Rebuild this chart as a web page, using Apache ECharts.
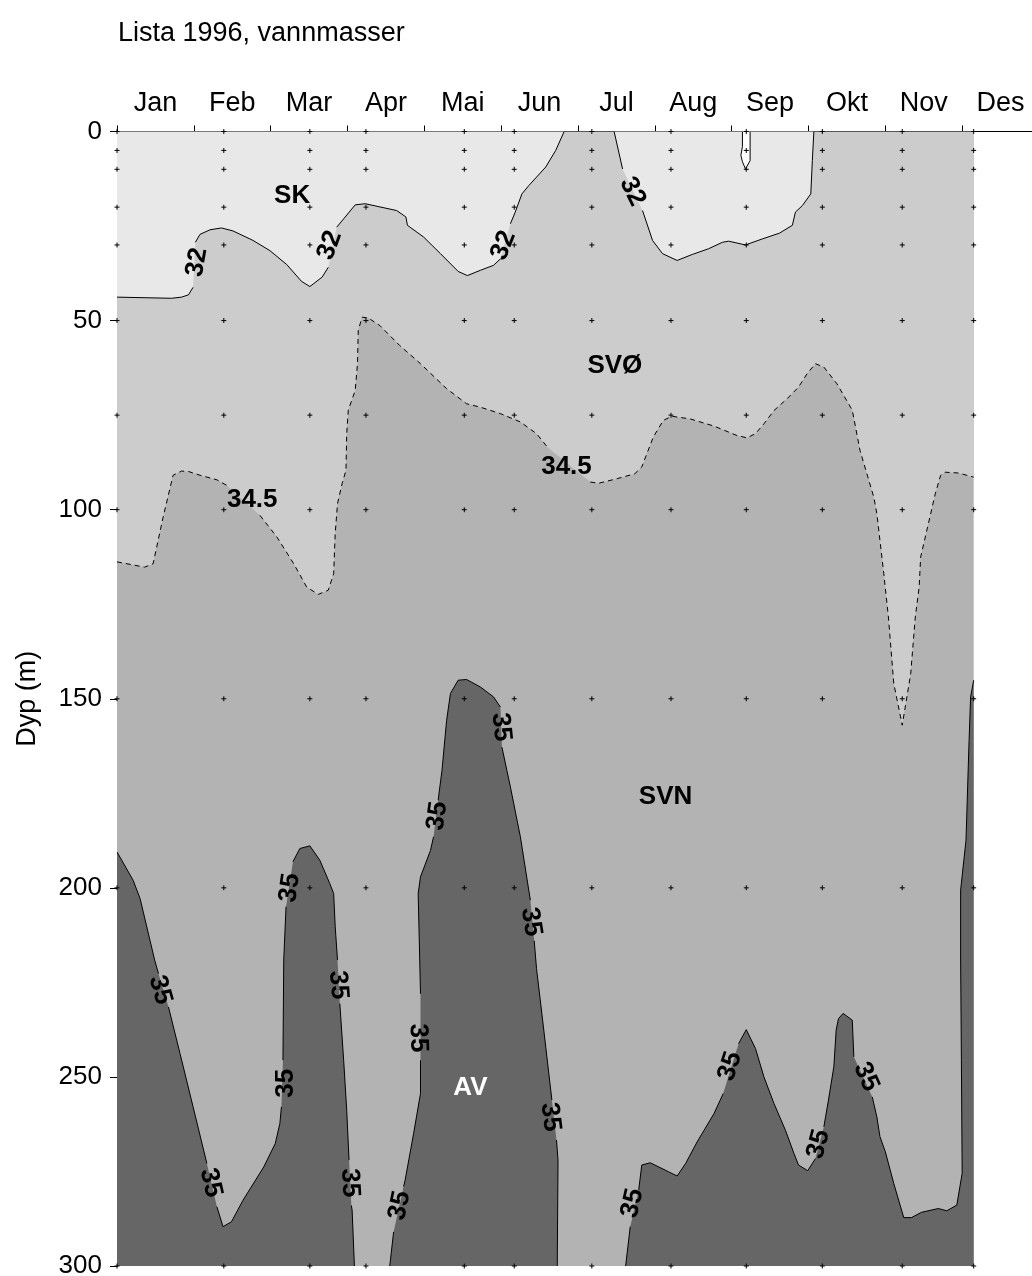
<!DOCTYPE html>
<html>
<head>
<meta charset="utf-8">
<script src="https://cdn.jsdelivr.net/npm/echarts@6/dist/echarts.min.js"></script>
<style>
html,body{margin:0;padding:0;background:#fff;}
#chart{width:1032px;height:1276px;}
</style>
</head>
<body>
<div id="chart"></div>
<script>
// ---------- data (x = month position, 0 = 1 Jan; y = depth in m) ----------
const months = ['Jan','Feb','Mar','Apr','Mai','Jun','Jul','Aug','Sep','Okt','Nov','Des'];
const stations = [0, 1.39, 2.51, 3.24, 4.52, 5.17, 6.18, 7.21, 8.19, 9.18, 10.22, 11.15];
const sampleDepths = [0, 5, 10, 20, 30, 50, 75, 100, 150, 200, 300];

// salinity 32 isoline (null = gap where the label sits)
const iso32a = [[0,43.8],[0.71,44.1],[0.84,43.8],[0.93,43.2],[0.99,41.2],null,[1.02,29.3],[1.08,27.2],[1.21,26.0],[1.36,25.5],[1.51,26.3],[1.77,28.8],[1.99,31.5],[2.21,35.2],[2.40,39.6],[2.51,41.0],[2.67,38.5],[2.75,35.9],null,[2.86,25.3],[2.95,23.1],[3.10,19.4],[3.23,19.1],[3.64,20.9],[3.76,22.6],[3.78,24.8],[3.99,27.9],[4.21,32.3],[4.44,37.0],[4.56,38.1],[4.73,36.7],[4.90,35.4],[4.99,33.7],null,[5.12,24.4],[5.18,21.5],[5.27,16.5],[5.36,14.3],[5.58,9.4],[5.71,5.0],[5.82,0]];
const iso32b = [[6.47,0],[6.58,9.9],null,[6.84,20.9],[6.97,28.8],[7.10,32.3],[7.29,34.1],[7.49,32.5],[7.70,31.0],[7.88,29.3],[7.96,29.0],[8.18,30.0],[8.40,28.4],[8.62,26.9],[8.79,24.8],[8.83,21.3],[8.92,19.6],[9.03,16.5],[9.05,7.7],[9.07,0]];
const iso32c = [[8.14,0],[8.14,4],[8.12,6.3],[8.14,8.0],[8.18,9.9],[8.24,7.7],[8.24,0]];
// salinity 34.5 isoline (dashed)
const iso345 = [[0,113.8],[0.36,115.2],[0.47,114.3],[0.60,102.0],[0.73,90.9],[0.84,89.8],[0.93,89.9],[1.08,90.9],[1.30,92.1],[1.43,93.6],null,[1.86,101.5],[2.08,107.2],[2.30,114.3],[2.47,120.5],[2.62,122.4],[2.75,121.3],[2.82,116.9],[2.84,106.3],[2.87,98.4],[2.93,93.1],[2.98,89.6],[2.99,79.9],[3.01,73.7],[3.10,68.5],[3.13,61.4],[3.14,52.6],[3.19,49.1],[3.27,49.3],[3.42,51.3],[3.68,56.6],[3.95,61.4],[4.29,68.0],[4.55,72.0],[4.73,72.9],[4.99,74.6],[5.25,76.8],[5.46,79.9],[5.60,83.4],null,[6.16,92.7],[6.27,93.0],[6.51,91.8],[6.74,90.5],[6.83,88.7],[6.98,80.8],[7.11,76.4],[7.22,75.3],[7.46,76.0],[7.77,77.9],[8.07,80.4],[8.20,81.0],[8.31,79.9],[8.42,77.3],[8.55,73.8],[8.72,70.7],[8.87,67.6],[8.98,64.1],[9.09,61.4],[9.20,62.3],[9.37,66.7],[9.57,73.7],[9.67,84.3],[9.85,96.7],[9.89,101.1],[9.98,116.9],[10.04,128.4],[10.11,146.0],[10.22,157.0],[10.33,143.4],[10.39,128.4],[10.44,120.5],[10.46,112.5],[10.55,104.6],[10.65,95.8],[10.72,90.9],[10.78,90.1],[10.95,90.3],[11.15,91.4]];
// salinity 35 isolines
const iso35a = [[0,190.5],[0.21,198.0],[0.30,202.8],[0.49,219.1],[0.54,222.7],null,[0.67,231.5],[0.82,243.8],[0.99,257.9],[1.17,272.9],null,[1.30,284.3],[1.38,289.6],[1.49,288.3],[1.64,282.6],[1.91,273.8],[2.06,267.6],[2.12,262.3],[2.14,257.9],null,[2.16,245.6],[2.17,219.1],[2.20,205.0],null,[2.29,193.1],[2.38,189.6],[2.51,188.9],[2.64,192.7],[2.77,198.9],[2.82,201.5],[2.84,210.3],[2.87,219.1],null,[2.90,230.6],[2.95,245.6],[2.99,258.8],[3.02,272.0],null,[3.05,284.0],[3.06,285.2],[3.09,300]];
const iso35b = [[3.55,300],[3.60,291.0],null,[3.73,279.0],[3.75,277.3],[3.86,265.0],[3.95,254.4],[3.95,245.6],null,[3.95,228.0],[3.94,219.1],[3.92,201.5],[3.95,197.1],[4.08,190.1],[4.12,186.5],null,[4.18,176.8],[4.23,168.9],[4.29,155.7],[4.34,148.6],[4.44,145.1],[4.55,144.9],[4.73,146.9],[4.90,149.5],[4.99,152.2],null,[5.01,162.8],[5.12,173.3],[5.25,186.5],[5.38,203.3],null,[5.43,214.0],[5.46,221.3],[5.55,236.8],[5.66,256.1],null,[5.72,266.7],[5.74,272.0],[5.73,300]];
const iso35c = [[6.62,300],[6.68,289.6],null,[6.79,279.9],[6.83,273.3],[6.94,272.7],[7.18,275.1],[7.29,276.2],[7.40,272.9],[7.55,267.2],[7.77,259.7],[7.89,254.4],null,[8.09,241.2],[8.19,237.5],[8.31,242.5],[8.42,250.0],[8.55,257.0],[8.70,264.1],[8.81,270.2],[8.87,273.3],[8.99,274.8],[9.09,271.6],null,[9.20,263.2],[9.26,256.1],[9.33,247.3],[9.36,237.6],[9.39,234.6],[9.45,233.2],[9.57,235.0],[9.59,244.7],null,[9.83,255.3],[9.89,260.6],[9.93,265.8],[10.0,269.8],[10.11,278.2],[10.24,287.2],[10.34,287.2],[10.47,285.8],[10.69,284.8],[10.80,285.4],[10.93,283.9],[11.0,275.5],[10.99,245.6],[10.98,219.1],[10.98,200.6],[11.05,187.4],[11.09,161.0],[11.11,149.5],[11.15,145.1]];

// isoline labels: [x, depth, text, angle]
const isoLabels = [
  [1.04,34.6,'32',80],[2.77,30.1,'32',70],[5.03,30.1,'32',68],[6.71,15.9,'32',-64],
  [0.56,227,'35',-74],[1.22,278,'35',-77],[2.20,251.7,'35',90],[2.25,200,'35',82],
  [2.88,225.7,'35',-86],[3.03,278,'35',-87],[3.92,239.7,'35',-88],[3.68,284,'35',78],
  [4.17,181,'35',82],[5.0,157.5,'35',-84],[5.39,209,'35',-81],[5.64,260.6,'35',-83],
  [6.71,283.4,'35',77],[7.98,247.2,'35',72],[9.13,267.8,'35',75],[9.75,250,'35',-66]
];
const isoLabels345 = [[1.76,97.5,'34.5'],[5.85,88.8,'34.5']];
const waterMasses = [[2.28,16.9,'SK'],[6.48,61.9,'SVØ'],[7.14,176,'SVN'],[4.6,253,'AV']];

// ---------- chart ----------
const FONT = '"Liberation Sans", Arial, Helvetica, sans-serif';
const X0 = stations[0], X1 = stations[stations.length - 1];
const TOP = 0, BOTTOM = 300;

function region(pts, extra, fill, stroke, dash, z) {
  return {
    type: 'custom', coordinateSystem: 'cartesian2d', xAxisIndex: 0, yAxisIndex: 0,
    silent: true, clip: true, z: z, data: [[0, 0]],
    renderItem: function (params, api) {
      const children = [];
      if (fill) {
        const poly = pts.filter(p => p).concat(extra).map(p => api.coord(p));
        children.push({ type: 'polygon', shape: { points: poly }, style: { fill: fill, stroke: null } });
      }
      if (stroke) {
        let seg = [];
        const segs = [];
        pts.forEach(p => { if (p) seg.push(api.coord(p)); else { segs.push(seg); seg = []; } });
        segs.push(seg);
        segs.forEach(s => {
          if (s.length > 1) children.push({ type: 'polyline', shape: { points: s },
            style: { fill: 'none', stroke: '#000', lineWidth: 1, lineDash: dash || null } });
        });
      }
      return { type: 'group', children: children };
    }
  };
}

const dots = [];
stations.forEach(x => sampleDepths.forEach(d => dots.push([x, d])));

const labelData = isoLabels.map(l => ({ value: [l[0], l[1]], name: l[2], label: { rotate: l[3] } }));
const label345Data = isoLabels345.map(l => ({ value: [l[0], l[1]], name: l[2] }));
const massData = waterMasses.map(l => ({ value: [l[0], l[1]], name: l[2],
  label: { color: l[2] === 'AV' ? '#fff' : '#000' } }));

function textSeries(data, fontSize, weight) {
  return {
    type: 'scatter', xAxisIndex: 0, yAxisIndex: 0, silent: true, z: 10,
    symbolSize: 1, itemStyle: { color: 'rgba(0,0,0,0)', opacity: 1 }, data: data,
    label: { show: true, position: 'inside', formatter: p => p.name, fontSize: fontSize,
      fontWeight: weight, fontFamily: FONT, color: '#000', opacity: 1,
      textBorderWidth: 0, align: 'center', verticalAlign: 'middle' }
  };
}

const chart = echarts.init(document.getElementById('chart'), null, { renderer: 'canvas' });
chart.setOption({
  animation: false,
  backgroundColor: '#fff',
  title: { text: 'Lista 1996, vannmasser', left: 118, top: 20, padding: 0,
    textStyle: { fontSize: 27, fontWeight: 'normal', fontFamily: FONT, color: '#000' } },
  grid: { left: 117, top: 131.5, width: 922, height: 1134.5, containLabel: false, outerBoundsMode: 'none' },
  xAxis: [
    { type: 'value', min: 0, max: 12, position: 'bottom',
      axisLine: { show: true, lineStyle: { color: '#000', width: 1 } },
      axisTick: { show: false }, axisLabel: { show: false }, splitLine: { show: false } },
    { type: 'category', data: months, position: 'top', boundaryGap: true,
      axisLine: { show: true, lineStyle: { color: '#000', width: 1 } },
      axisTick: { show: true, length: 6, inside: false, alignWithLabel: false, lineStyle: { color: '#000' } },
      axisLabel: { fontSize: 27, fontFamily: FONT, color: '#000', margin: 14 },
      splitLine: { show: false } }
  ],
  yAxis: {
    type: 'value', inverse: true, min: 0, max: 300, interval: 50,
    name: 'Dyp (m)', nameLocation: 'middle', nameGap: 76,
    nameTextStyle: { fontSize: 27, fontFamily: FONT, color: '#000' },
    axisLine: { show: true, lineStyle: { color: '#000', width: 1 } },
    axisTick: { show: true, length: 7, lineStyle: { color: '#000' } },
    axisLabel: { fontSize: 26, fontFamily: FONT, color: '#000', margin: 15 },
    splitLine: { show: false }
  },
  series: [
    region([[X0,TOP],[X1,TOP],[X1,BOTTOM],[X0,BOTTOM]], [], '#b3b3b3', false, null, 1),
    region(iso345, [[X1,TOP],[X0,TOP]], '#cccccc', true, [5,4], 2),
    region(iso32a, [[X0,TOP]], '#e8e8e8', true, null, 3),
    region(iso32b, [], '#e8e8e8', true, null, 3),
    region(iso32c, [], '#ffffff', true, null, 4),
    region(iso35a, [[X0,BOTTOM]], '#666666', true, null, 5),
    region(iso35b, [], '#666666', true, null, 5),
    region(iso35c, [[X1,BOTTOM]], '#666666', true, null, 5),
    { type: 'scatter', xAxisIndex: 0, yAxisIndex: 0, silent: true, z: 8, symbol: 'rect',
      symbolSize: [5, 1], itemStyle: { color: '#000', opacity: 1 }, data: dots },
    { type: 'scatter', xAxisIndex: 0, yAxisIndex: 0, silent: true, z: 8, symbol: 'rect',
      symbolSize: [1, 5], itemStyle: { color: '#000', opacity: 1 }, data: dots },
    textSeries(labelData, 26, 'bold'),
    textSeries(label345Data, 26, 'bold'),
    textSeries(massData, 26, 'bold')
  ]
});
</script>
</body>
</html>
